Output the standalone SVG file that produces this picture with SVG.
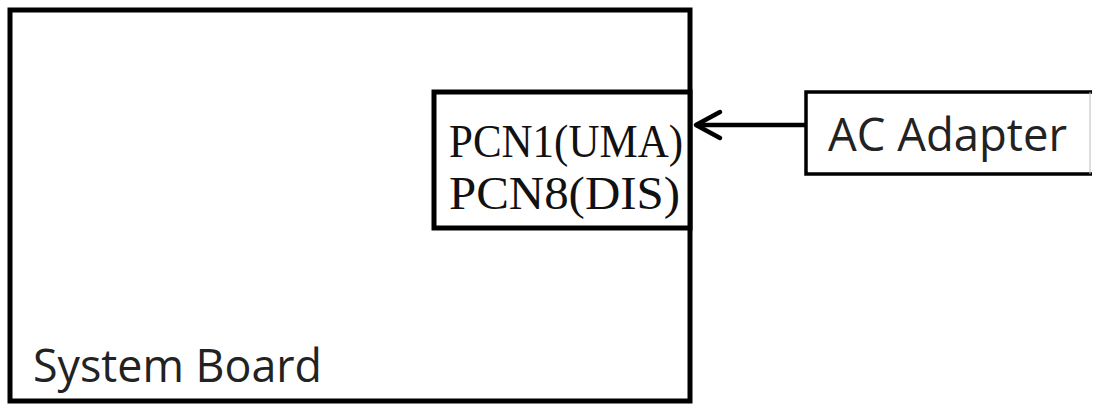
<svg xmlns="http://www.w3.org/2000/svg" width="1094" height="405" viewBox="0 0 1094 405">
<style>
.box{fill:#fff;stroke:#000;stroke-width:5}
.serif{font-family:"Liberation Serif","DejaVu Serif",serif;font-size:47px;fill:#111}
.sans{font-family:"Open Sans","Liberation Sans",sans-serif;font-size:45px;fill:#222}
.conn{stroke:#000;stroke-width:4.5;fill:none}
</style>
<g id="system-board">
<rect class="box" x="10" y="10" width="680" height="391"/>
<text class="sans" x="33" y="382" textLength="289" lengthAdjust="spacingAndGlyphs">System Board</text>
</g>
<g id="pcn">
<rect class="box" x="434" y="92" width="256" height="136"/>
<text class="serif" x="449" y="157" textLength="234" lengthAdjust="spacingAndGlyphs">PCN1(UMA)</text>
<text class="serif" x="449" y="209" textLength="231" lengthAdjust="spacingAndGlyphs">PCN8(DIS)</text>
</g>
<g id="ac-adapter">
<path d="M1092,92 H806 V174 H1092" fill="#fff" stroke="#000" stroke-width="3.5"/>
<line x1="1090" y1="92" x2="1090" y2="174" stroke="#bbb" stroke-width="1"/>
<text class="sans" x="828" y="151" textLength="239" lengthAdjust="spacingAndGlyphs">AC Adapter</text>
</g>
<g id="connectors">
<line class="conn" x1="806" y1="125" x2="696" y2="125"/>
<polyline class="conn" points="720,112 696,125 720,138" stroke-linecap="round" stroke-linejoin="round"/>
</g>
</svg>
